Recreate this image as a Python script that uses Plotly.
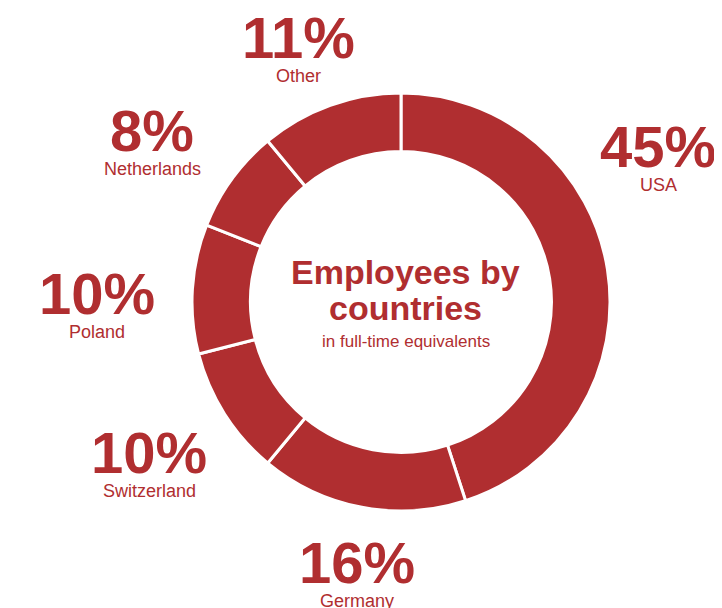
import plotly.graph_objects as go

countries = ["USA", "Germany", "Switzerland", "Poland", "Netherlands", "Other"]
shares = [45, 16, 10, 10, 8, 11]
# label anchor positions (page pixels) for the hand-placed labels
label_x = [658, 357, 149, 97, 152, 298]
label_y = [146, 562, 452, 293, 130, 37]

OFF = 8  # default page body margin
W, H = 722 - OFF, 608 - OFF
RED = "#B02E30"
FONT = "Liberation Sans, Arial, Helvetica, sans-serif"

cx, cy, R = 401 - OFF, 302 - OFF, 209


def px(x):
    return (x - OFF) / W


def py(y):
    return 1 - (y - OFF) / H


fig = go.Figure(go.Pie(
    labels=countries,
    values=shares,
    hole=0.72,
    sort=False,
    direction="clockwise",
    rotation=0,
    textinfo="none",
    hoverinfo="label+percent",
    marker=dict(colors=[RED] * len(countries), line=dict(color="white", width=3)),
    showlegend=False,
    domain=dict(x=[(cx - R) / W, (cx + R) / W], y=[(H - cy - R) / H, (H - cy + R) / H]),
))

annotations = []
for name, val, lx, ly in zip(countries, shares, label_x, label_y):
    annotations.append(dict(
        x=px(lx), y=py(ly), xref="paper", yref="paper",
        text=f"<b>{val}%</b>", showarrow=False, xanchor="center", yanchor="middle",
        font=dict(family=FONT, size=58, color=RED),
    ))
    annotations.append(dict(
        x=px(lx), y=py(ly + 39), xref="paper", yref="paper",
        text=name, showarrow=False, xanchor="center", yanchor="middle",
        font=dict(family=FONT, size=18, color=RED),
    ))

annotations += [
    dict(x=px(405), y=py(272), xref="paper", yref="paper", text="<b>Employees by</b>",
         showarrow=False, xanchor="center", yanchor="middle",
         font=dict(family=FONT, size=34, color=RED)),
    dict(x=px(405), y=py(308), xref="paper", yref="paper", text="<b>countries</b>",
         showarrow=False, xanchor="center", yanchor="middle",
         font=dict(family=FONT, size=34, color=RED)),
    dict(x=px(406), y=py(341), xref="paper", yref="paper", text="in full-time equivalents",
         showarrow=False, xanchor="center", yanchor="middle",
         font=dict(family=FONT, size=17, color=RED)),
]

fig.update_layout(
    width=W, height=H,
    margin=dict(l=0, r=0, t=0, b=0),
    paper_bgcolor="white", plot_bgcolor="white",
    annotations=annotations,
)

fig.write_html("out.html")
